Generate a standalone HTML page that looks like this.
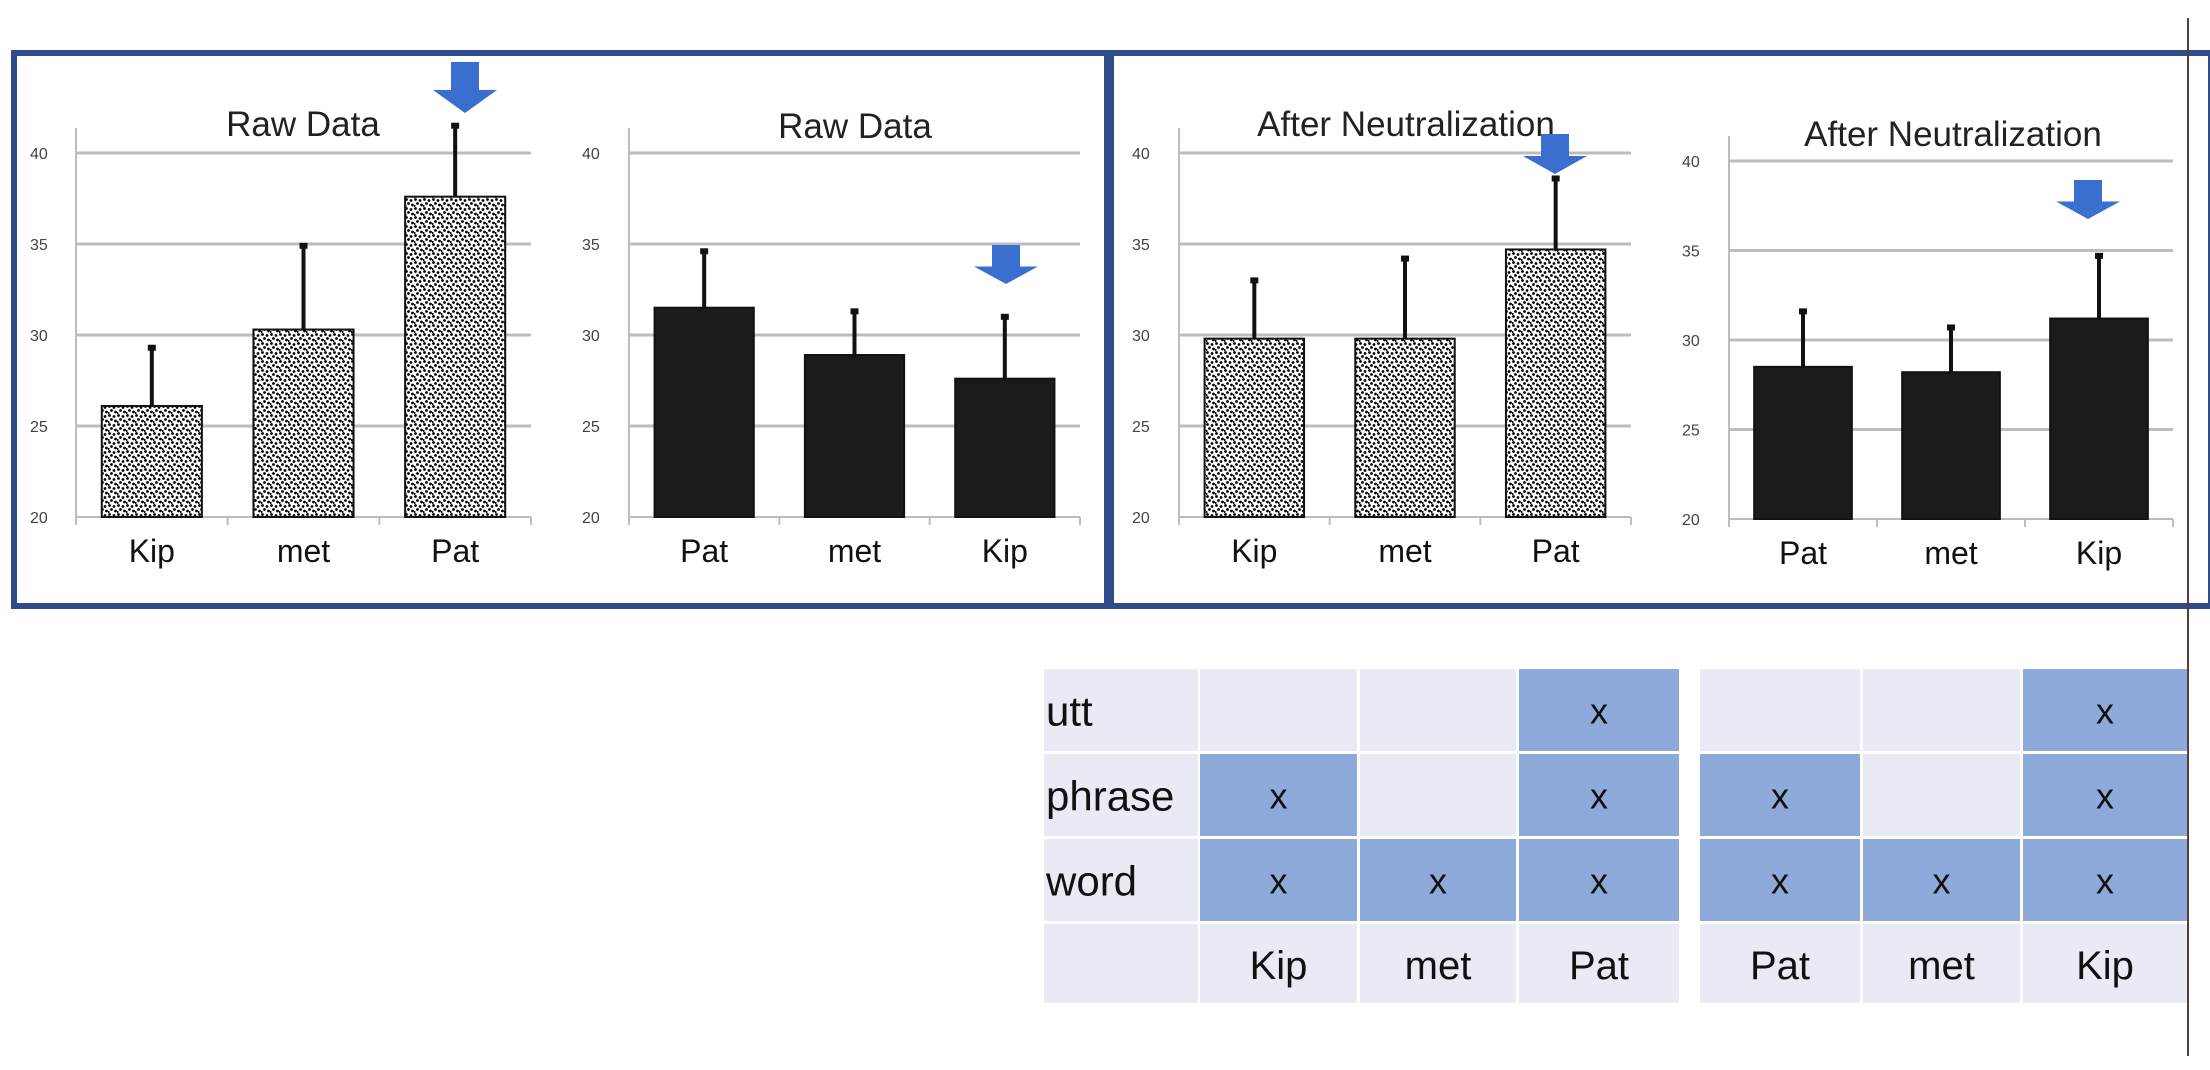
<!DOCTYPE html>
<html><head><meta charset="utf-8"><style>
html,body{margin:0;padding:0;background:#fff;}
svg{display:block;}
text{font-family:"Liberation Sans",sans-serif;}
</style></head><body>
<svg id="root" width="2210" height="1070" viewBox="0 0 2210 1070" xmlns="http://www.w3.org/2000/svg">
<defs>
<pattern id="stip" width="9" height="9" patternUnits="userSpaceOnUse">
<rect width="9" height="9" fill="#fff"/>
<circle cx="1.5" cy="1.5" r="1.4" fill="#000"/><circle cx="6" cy="2.5" r="1.4" fill="#000"/>
<circle cx="3.5" cy="5.5" r="1.4" fill="#000"/><circle cx="7.5" cy="7" r="1.4" fill="#000"/>
<circle cx="0.5" cy="8" r="1.1" fill="#000"/>
</pattern>
</defs>
<rect x="14" y="53" width="1093" height="553" fill="none" stroke="#2f4b8a" stroke-width="6"/>
<rect x="1111" y="53" width="1100" height="553" fill="none" stroke="#2f4b8a" stroke-width="6"/>
<line x1="2188" y1="18" x2="2188" y2="1056" stroke="#5a3c3c" stroke-width="2"/>
<g id="charts"></g>
<g id="table"></g>
</svg>
<script>
const ticks = [20,25,30,35,40];
const c1Cats = ["Kip","met","Pat"];
const c1Vals = [26.1,30.3,37.6];
const c1Errs = [29.3,34.9,41.5];
const c2Cats = ["Pat","met","Kip"];
const c2Vals = [31.5,28.9,27.6];
const c2Errs = [34.6,31.3,31.0];
const c3Cats = ["Kip","met","Pat"];
const c3Vals = [29.8,29.8,34.7];
const c3Errs = [33.0,34.2,38.6];
const c4Cats = ["Pat","met","Kip"];
const c4Vals = [28.5,28.2,31.2];
const c4Errs = [31.6,30.7,34.7];
const tableRows = ["utt","phrase","word"];
const tableCols = ["Kip","met","Pat","Pat","met","Kip"];
const uttMarks = [0,0,1,0,0,1];
const phraseMarks = [1,0,1,1,0,1];
const wordMarks = [1,1,1,1,1,1];

const NS="http://www.w3.org/2000/svg";
function mk(tag,attrs,parent,txt){const e=document.createElementNS(NS,tag);for(const k in attrs)e.setAttribute(k,attrs[k]);if(txt!==undefined)e.textContent=txt;parent.appendChild(e);return e;}

function chart(id,cfg,cats,vals,errs){
  const g=mk('g',{},document.getElementById('charts'));
  
  
  const y=v=>cfg.y0+(v-20)/20*(cfg.y40-cfg.y0);
  const bw=(cfg.x1-cfg.x0)/cats.length;
  ticks.forEach(t=>{
    if(t>20){const l=mk('line',{x1:cfg.x0,x2:cfg.x1,y1:y(t),y2:y(t),stroke:'#bdbdbd','stroke-width':3},g);
    
    }
    const tx=mk('text',{x:cfg.tx,y:y(t)+6,'font-size':16,fill:'#444'},g,String(t));
    
    
  });
  mk('line',{x1:cfg.x0,x2:cfg.x0,y1:cfg.y40-25,y2:cfg.y0,stroke:'#bdbdbd','stroke-width':2},g);
  mk('line',{x1:cfg.x0,x2:cfg.x1,y1:cfg.y0,y2:cfg.y0,stroke:'#bdbdbd','stroke-width':2},g);
  for(let i=0;i<=cats.length;i++)mk('line',{x1:cfg.x0+i*bw,x2:cfg.x0+i*bw,y1:cfg.y0,y2:cfg.y0+8,stroke:'#bdbdbd','stroke-width':2},g);
  cats.forEach((c,i)=>{
    const cx=cfg.x0+(i+0.5)*bw, w=bw*0.66;
    const b=mk('rect',{x:cx-w/2,y:y(vals[i]),width:w,height:y(20)-y(vals[i]),fill:cfg.fill,stroke:'#111','stroke-width':2},g);
    
    
    const e=mk('line',{x1:cx,x2:cx,y1:y(vals[i]),y2:y(errs[i]),stroke:'#111','stroke-width':4},g);
    
    
    mk('rect',{x:cx-4,y:y(errs[i])-3,width:8,height:6,fill:'#111'},g);
    const l=mk('text',{x:cx,y:cfg.y0+45,'font-size':32,'text-anchor':'middle',fill:'#111'},g,c);
    
    
  });
  const t=mk('text',{x:cfg.tcx,y:cfg.ty,'font-size':35,'text-anchor':'middle',fill:'#222'},g,cfg.title);
  
  
  const a=cfg.arrow, ax=a[0], at=a[1], ab=a[2];
  const p=mk('polygon',{points:`${ax-14},${at} ${ax+14},${at} ${ax+14},${at+(ab-at)*0.55} ${ax+32},${at+(ab-at)*0.55} ${ax},${ab} ${ax-32},${at+(ab-at)*0.55} ${ax-14},${at+(ab-at)*0.55}`,fill:'#3a6fd0'},g);
  
  
}
chart('raw-data-chart-1',{x0:76,x1:531,y0:517,y40:153,tx:30,fill:'url(#stip)',title:'Raw Data',tcx:303,ty:136,arrow:[465,62,113]},c1Cats,c1Vals,c1Errs);
chart('raw-data-chart-2',{x0:629,x1:1080,y0:517,y40:153,tx:582,fill:'#1b1b1b',title:'Raw Data',tcx:855,ty:138,arrow:[1006,245,284]},c2Cats,c2Vals,c2Errs);
chart('neutralized-chart-1',{x0:1179,x1:1631,y0:517,y40:153,tx:1132,fill:'url(#stip)',title:'After Neutralization',tcx:1406,ty:136,arrow:[1555,134,174]},c3Cats,c3Vals,c3Errs);
chart('neutralized-chart-2',{x0:1729,x1:2173,y0:519,y40:161,tx:1682,fill:'#1b1b1b',title:'After Neutralization',tcx:1953,ty:146,arrow:[2088,180,219]},c4Cats,c4Vals,c4Errs);

(function(){
  const T=document.getElementById('table');
  const colS=[1200,1360,1519,1700,1863,2023];
  const colE=[1357,1516,1679,1860,2020,2187];
  const rowY=[669,754,839,924,1006];
  const marks=[uttMarks,phraseMarks,wordMarks];
  for(let r=0;r<4;r++){
    const h=rowY[r+1]-rowY[r];
    mk('rect',{x:1044,y:rowY[r],width:154,height:h-3,fill:'#e8ebf4'},T);
    if(r<3){const t=mk('text',{x:1046,y:rowY[r]+h/2+14,'font-size':42,fill:'#111'},T,tableRows[r]);
      
      }
    for(let c=0;c<6;c++){
      const x=colS[c], w=colE[c]-x;
      const on=r<3&&marks[r][c];
      const cell=mk('rect',{x:x,y:rowY[r],width:w,height:h-3,fill:on?'#8eaadb':'#e8ebf4'},T);
      
      
      const cx=x+w/2;
      if(on)mk('text',{x:cx,y:rowY[r]+h/2+12,'font-size':36,'text-anchor':'middle',fill:'#111'},T,'x');
      if(r===3){const t=mk('text',{x:cx,y:rowY[r]+h/2+14,'font-size':40,'text-anchor':'middle',fill:'#111'},T,tableCols[c]);
        
        }
    }
  }
})();
</script>
</body></html>
